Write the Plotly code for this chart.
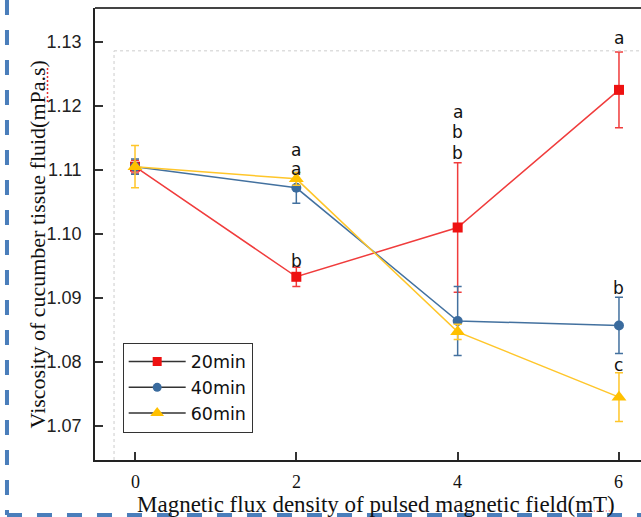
import plotly.graph_objects as go

# Pulsed magnetic field flux density (mT)
flux = [0, 2, 4, 6]
x_tick_labels = ["0", "2", "4", "6"]

# Viscosity (mPa.s) means and standard errors per treatment time
visc_20 = [1.1105, 1.0933, 1.1010, 1.1225]
err_20 = [0.0010, 0.0015, 0.0101, 0.0059]
visc_40 = [1.1105, 1.1072, 1.0864, 1.0857]
err_40 = [0.0012, 0.0024, 0.0054, 0.0044]
visc_60 = [1.1105, 1.1086, 1.0847, 1.0745]
err_60 = [0.0033, 0.0010, 0.0012, 0.0038]

y_ticks = [1.07, 1.08, 1.09, 1.10, 1.11, 1.12, 1.13]

# Significance letters (x, y, letter)
letter_x = [2, 2, 2, 4, 4, 4, 6, 6, 6]
letter_y = [1.1131, 1.1102, 1.0958, 1.1191, 1.1159, 1.1126, 1.1306, 1.0915, 1.0795]
letter_txt = ["a", "a", "b", "a", "b", "b", "a", "b", "c"]

series = [
    ("20min", visc_20, err_20, "#f03c3c", "#ee1111", "square", 10, 9),
    ("40min", visc_40, err_40, "#43719f", "#3a6b9e", "circle", 10, 9),
    ("60min", visc_60, err_60, "#ffc62a", "#ffc000", "triangle-up", 13, 12),
]

fig = go.Figure()

for name, vals, errs, lc, mc, sym, ms, lms in series:
    fig.add_trace(go.Scatter(
        x=flux, y=vals, mode="lines+markers", name=name, showlegend=False,
        line=dict(color=lc, width=1.5),
        marker=dict(symbol=sym, size=ms, color=mc),
        error_y=dict(type="data", array=errs, visible=True,
                     color=lc, thickness=1.5, width=4),
    ))

# Legend entries: dark connector line with coloured marker
for name, vals, errs, lc, mc, sym, ms, lms in series:
    fig.add_trace(go.Scatter(
        x=[None], y=[None], mode="lines+markers", name=name,
        line=dict(color="#333333", width=1.5),
        marker=dict(symbol=sym, size=lms, color=mc),
    ))

for lx, ly, lt in zip(letter_x, letter_y, letter_txt):
    fig.add_annotation(x=lx, y=ly, text=lt, showarrow=False,
                       font=dict(family="DejaVu Sans", size=17, color="#111111"),
                       xanchor="center", yanchor="middle")

# Serif tick labels for the x axis, set below the axis line
for tx, tl in zip(flux, x_tick_labels):
    fig.add_annotation(x=tx, y=0, xref="x", yref="paper", text=tl, showarrow=False,
                       font=dict(family="Liberation Serif", size=18, color="#111111"),
                       xanchor="center", yanchor="middle", yshift=-22)

x_range = [-0.496, 6.273]
y_range = [1.06468, 1.13529]
guide_x = -0.26
guide_y = 1.1286

fig.update_layout(
    width=641, height=517,
    margin=dict(l=95, r=0, t=8, b=57),
    paper_bgcolor="white", plot_bgcolor="white",
    xaxis=dict(
        range=x_range, tickvals=flux, showticklabels=False,
        ticks="inside", ticklen=8, tickwidth=1.5, tickcolor="#333333",
        showline=True, linecolor="#222222", linewidth=1.5,
        showgrid=False, zeroline=False,
    ),
    yaxis=dict(
        range=y_range, tickvals=y_ticks, tickformat=".2f",
        ticks="inside", ticklen=8, tickwidth=1.5, tickcolor="#333333",
        showline=True, linecolor="#222222", linewidth=1.5,
        showgrid=False, zeroline=False,
        tickfont=dict(family="Liberation Sans", size=18, color="#222222"),
        ticklabelstandoff=8,
    ),
    legend=dict(
        x=0.0507, y=0.2595, xanchor="left", yanchor="top",
        bgcolor="white", bordercolor="#333333", borderwidth=1,
        font=dict(family="DejaVu Sans", size=17.5, color="#111111"),
        itemwidth=57, tracegroupgap=0,
    ),
    showlegend=True,
)

# Axis titles
fig.add_annotation(
    xref="paper", yref="paper", x=-0.1062, y=0.477, textangle=-90,
    text="Viscosity of cucumber tissue fluid(mPa.s)", showarrow=False,
    font=dict(family="Liberation Serif", size=22, color="#111111"),
    xanchor="center", yanchor="middle",
)
fig.add_annotation(
    xref="paper", yref="paper", x=0.5147, y=-0.0975,
    text="Magnetic flux density of pulsed magnetic field(mT)", showarrow=False,
    font=dict(family="Liberation Serif", size=23, color="#111111"),
    xanchor="center", yanchor="middle",
)

# Red proofing marks under "mPa" and "mT"
fig.add_shape(type="line", xref="paper", yref="paper",
              x0=-0.0870, x1=-0.0870, y0=0.792, y1=0.8695,
              line=dict(color="#e83030", width=1.5, dash="2px,2px"))
fig.add_shape(type="line", xref="paper", yref="paper",
              x0=0.897, x1=0.947, y0=-0.1128, y1=-0.1128,
              line=dict(color="#e83030", width=1, dash="1px,2px"))

# Frame top edge
fig.add_shape(type="line", xref="paper", yref="paper", x0=0, x1=1, y0=1, y1=1,
              line=dict(color="#444444", width=2))
# Light dotted guide lines
fig.add_shape(type="line", xref="x", yref="y", x0=guide_x, x1=x_range[1],
              y0=guide_y, y1=guide_y, line=dict(color="#cccccc", width=1, dash="dot"))
fig.add_shape(type="line", xref="x", yref="y", x0=guide_x, x1=guide_x,
              y0=y_range[0], y1=guide_y, line=dict(color="#cccccc", width=1, dash="dot"))

# Dashed blue outline on the left and bottom
fig.add_shape(type="line", xref="paper", yref="paper",
              x0=-0.1612, x1=-0.1612, y0=1.0177, y1=-0.1217,
              line=dict(color="#4a7ebb", width=4, dash="15px,15px"))
fig.add_shape(type="line", xref="paper", yref="paper",
              x0=-0.1612, x1=1.0, y0=-0.1217, y1=-0.1217,
              line=dict(color="#4a7ebb", width=4, dash="15px,15px"))

fig.write_html("out.html")
